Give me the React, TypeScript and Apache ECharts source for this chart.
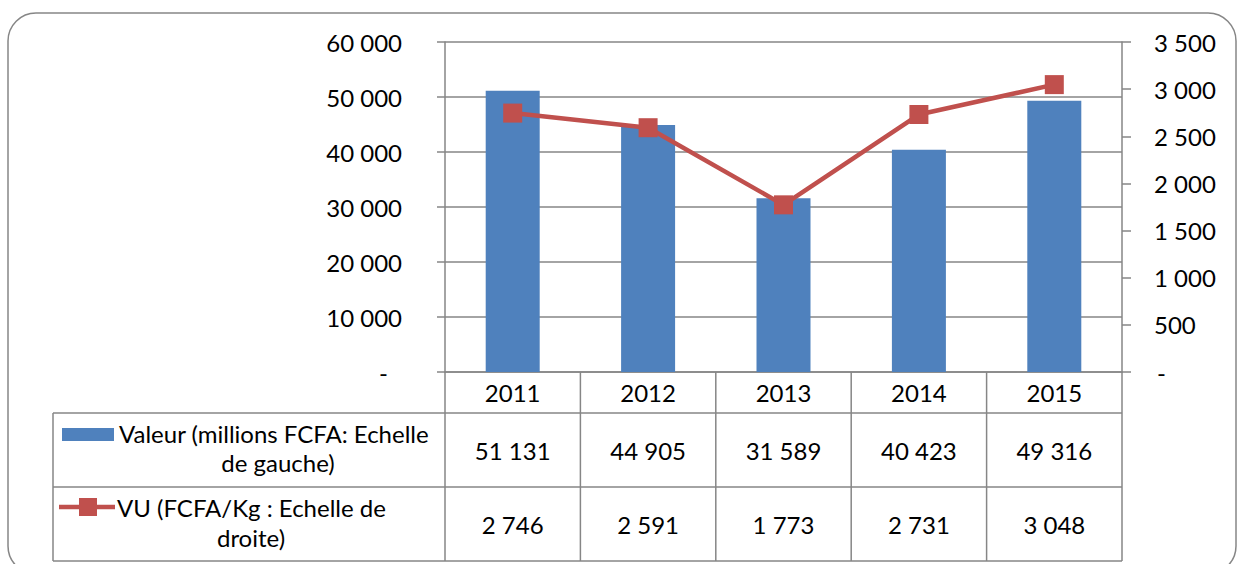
import React, { useEffect, useRef } from "react";
import * as echarts from "echarts";

const years = ["2011", "2012", "2013", "2014", "2015"];
const valeur = [51131, 44905, 31589, 40423, 49316];
const vu = [2746, 2591, 1773, 2731, 3048];
const legendValeur = ["Valeur (millions FCFA: Echelle", "de gauche)"];
const legendVU = ["VU (FCFA/Kg : Echelle de", "droite)"];

const BLUE = "#4F81BD";
const RED = "#C0504D";
const GRAY = "#868686";
const FONT = "Lato";
const FS = 24;

const fmt = (v: number) => String(v).replace(/\B(?=(\d{3})+(?!\d))/g, " ");

export default function App() {
  const ref = useRef<HTMLDivElement>(null);
  useEffect(() => {
    if (!ref.current) return;
    const chart = echarts.init(ref.current, null, { renderer: "svg" });
    const gl = 445, gr = 1122, gt = 42, gb = 372;
    const colW = (gr - gl) / years.length;
    const rowH = 413, rowM = 487, rowB = 561, tblL = 53;
    const lineStyle = { stroke: GRAY, lineWidth: 1.5 };
    const graphic: any[] = [];
    graphic.push({
      type: "rect",
      shape: { x: 8, y: 13, width: 1228, height: 561, r: 28 },
      style: { fill: "none", stroke: GRAY, lineWidth: 1.5 },
      silent: true,
    });
    const hl = (x1: number, x2: number, y: number) =>
      graphic.push({ type: "line", shape: { x1, y1: y, x2, y2: y }, style: lineStyle, silent: true });
    const vl = (x: number, y1: number, y2: number) =>
      graphic.push({ type: "line", shape: { x1: x, y1, x2: x, y2 }, style: lineStyle, silent: true });
    hl(tblL, gr, rowH);
    hl(tblL, gr, rowM);
    hl(tblL, gr, rowB);
    vl(tblL, rowH, rowB);
    vl(gl, gb, rowB);
    vl(gr, gb, rowB);
    for (let i = 1; i < years.length; i++) vl(gl + colW * i, gb, rowB);
    const txt = (text: string, x: number, y: number, align = "center") =>
      graphic.push({
        type: "text",
        x,
        y,
        style: { text, fill: "#000", fontSize: FS, fontFamily: FONT, align, verticalAlign: "middle" },
        silent: true,
      });
    years.forEach((_, i) => {
      const cx = gl + colW * (i + 0.5);
      txt(fmt(valeur[i]), cx, 450);
      txt(fmt(vu[i]), cx, 524);
    });
    graphic.push({ type: "rect", shape: { x: 62, y: 428, width: 52, height: 13 }, style: { fill: BLUE }, silent: true });
    txt(legendValeur[0], 119, 433, "left");
    txt(legendValeur[1], 278, 462);
    graphic.push({ type: "line", shape: { x1: 59, y1: 507, x2: 115, y2: 507 }, style: { stroke: RED, lineWidth: 4.5 }, silent: true });
    graphic.push({ type: "rect", shape: { x: 79, y: 498, width: 18, height: 18 }, style: { fill: RED }, silent: true });
    txt(legendVU[0], 117, 507, "left");
    txt(legendVU[1], 251, 537);

    chart.setOption({
      animation: false,
      grid: { left: gl, right: 1237 - gr, top: gt, bottom: 564 - gb, containLabel: false },
      xAxis: {
        type: "category",
        data: years,
        axisLine: { show: true, lineStyle: { color: GRAY, width: 1.5 } },
        axisTick: { show: false },
        axisLabel: { color: "#000", fontSize: FS, fontFamily: FONT, margin: 8 },
      },
      yAxis: [
        {
          type: "value",
          min: 0,
          max: 60000,
          interval: 10000,
          axisLine: { show: true, lineStyle: { color: GRAY, width: 1.5 } },
          axisTick: { show: true, length: 8, lineStyle: { color: GRAY, width: 1.5 } },
          splitLine: { show: true, lineStyle: { color: GRAY, width: 1.5 } },
          axisLabel: {
            color: "#000",
            fontSize: FS,
            fontFamily: FONT,
            margin: 43,
            formatter: (v: number) => (v === 0 ? "{z|-}" : fmt(v)),
            rich: { z: { fontSize: FS, fontFamily: FONT, color: "#000", padding: [0, 14, 0, 0] } },
          },
        },
        {
          type: "value",
          min: 0,
          max: 3500,
          interval: 500,
          position: "right",
          axisLine: { show: true, lineStyle: { color: GRAY, width: 1.5 } },
          axisTick: { show: true, length: 9, lineStyle: { color: GRAY, width: 1.5 } },
          splitLine: { show: false },
          axisLabel: {
            color: "#000",
            fontSize: FS,
            fontFamily: FONT,
            margin: 32,
            formatter: (v: number) => (v === 0 ? "{z|-}" : fmt(v)),
            rich: { z: { fontSize: FS, fontFamily: FONT, color: "#000", padding: [0, 0, 0, 3] } },
          },
        },
      ],
      series: [
        {
          name: "Valeur (millions FCFA: Echelle de gauche)",
          type: "bar",
          data: valeur,
          barWidth: 54,
          itemStyle: { color: BLUE },
          yAxisIndex: 0,
        },
        {
          name: "VU (FCFA/Kg : Echelle de droite)",
          type: "line",
          data: vu,
          yAxisIndex: 1,
          symbol: "rect",
          symbolSize: 19,
          lineStyle: { color: RED, width: 4.5 },
          itemStyle: { color: RED },
          z: 5,
        },
      ],
      graphic,
    });
    return () => chart.dispose();
  }, []);
  return <div ref={ref} style={{ position: "fixed", left: 0, top: 0, width: 1237, height: 564, background: "#fff" }} />;
}
